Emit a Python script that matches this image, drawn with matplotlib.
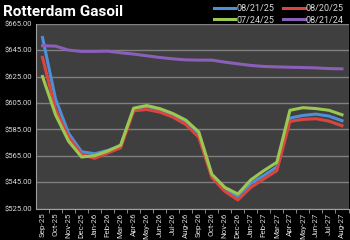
import matplotlib.pyplot as plt
from matplotlib import font_manager
import numpy as np

months = ['Sep-25', 'Oct-25', 'Nov-25', 'Dec-25', 'Jan-26', 'Feb-26', 'Mar-26',
          'Apr-26', 'May-26', 'Jun-26', 'Jul-26', 'Aug-26', 'Sep-26', 'Oct-26',
          'Nov-26', 'Dec-26', 'Jan-27', 'Feb-27', 'Mar-27', 'Apr-27', 'May-27',
          'Jun-27', 'Jul-27', 'Aug-27']

curve_082125 = [654.5, 608, 582, 568, 566.5, 569, 572.5, 600.5, 602.5, 600,
                596, 591, 582, 550.5, 540, 534, 544, 550, 556.5, 593.5, 595.5,
                596.5, 595, 591.5]
curve_082025 = [639.5, 600, 579, 566, 563, 567, 571, 599, 600, 598, 594.3,
                588.7, 579, 548.6, 538, 531.5, 541, 547.4, 553.7, 591, 592.5,
                593, 591.2, 587.7]
curve_072425 = [625, 596, 576, 564, 565, 568.5, 573, 601, 603, 600.7, 597, 592,
                583, 551, 541, 536, 546.7, 553.7, 560, 599.4, 601.4, 600.7,
                599.4, 596]
curve_082124 = [648.3, 648, 645, 644, 644, 644.2, 643, 642, 640.7, 639.4,
                638.4, 637.6, 637.4, 637.4, 635.9, 634.6, 633.4, 632.6, 632.3,
                632, 631.8, 631.5, 631, 630.8]

y_ticks = [525, 545, 565, 585, 605, 625, 645, 665]

installed = {f.name for f in font_manager.fontManager.ttflist}
narrow = 'Liberation Sans Narrow' if 'Liberation Sans Narrow' in installed else 'Roboto'
plt.rcParams['font.family'] = [narrow, 'DejaVu Sans']

W, H = 350, 240
fig = plt.figure(figsize=(W / 100, H / 100), dpi=100, facecolor='black')
ax = fig.add_axes([36 / W, 1 - 208.5 / H, (348.5 - 36) / W, (208.5 - 23.7) / H])
ax.set_facecolor('#3f3f3f')

x = np.arange(len(months))
series = [
    ('08/21/25', curve_082125, '#4f8fd8'),
    ('08/20/25', curve_082025, '#d9463f'),
    ('07/24/25', curve_072425, '#9bc850'),
    ('08/21/24', curve_082124, '#8a5fb8'),
]
lines = {}
for label, vals, color in series:
    lines[label], = ax.plot(x, vals, color=color, lw=2.2, label=label, zorder=3)
lines['07/24/25'].set_zorder(4)

ax.set_xlim(-0.5, len(months) - 0.5)
ax.set_ylim(525, 665)
ax.set_yticks(y_ticks)
ax.set_yticklabels([f'${v:.2f}' for v in y_ticks])
ax.set_xticks(x)
ax.set_xticklabels(months, rotation=90)
ax.set_xticks(x + 0.5, minor=True)
ax.grid(axis='y', color='#7f7f7f', lw=1.0, zorder=1)
ax.tick_params(axis='y', length=0, labelsize=5.5, colors='#d9d9d9', pad=3)
ax.tick_params(axis='x', which='major', length=0, labelsize=5.8,
               colors='#d9d9d9', pad=3)
ax.tick_params(axis='x', which='minor', length=3, color='#a0a0a0')
for side in ['top', 'right']:
    ax.spines[side].set_visible(False)
ax.spines['left'].set_color('#a0a0a0')
ax.spines['bottom'].set_color('#a0a0a0')

fig.text(3 / W, 1 - 12 / H, 'Rotterdam Gasoil', color='white', fontsize=11,
         fontweight='bold', va='center', ha='left')

# ncol=2 fills column by column: blue/green left, red/purple right
order = ['08/21/25', '07/24/25', '08/20/25', '08/21/24']
handles = [lines[k] for k in order]
fig.legend(handles=handles, labels=order, ncol=2, loc='upper right',
           bbox_to_anchor=(1.0, 1.01), frameon=False, fontsize=6.5,
           labelcolor='#d9d9d9', handlelength=2.4, handletextpad=0.1,
           columnspacing=1.0, labelspacing=0.3, borderpad=0.2)

fig.savefig('out.png', dpi=100, facecolor='black')
